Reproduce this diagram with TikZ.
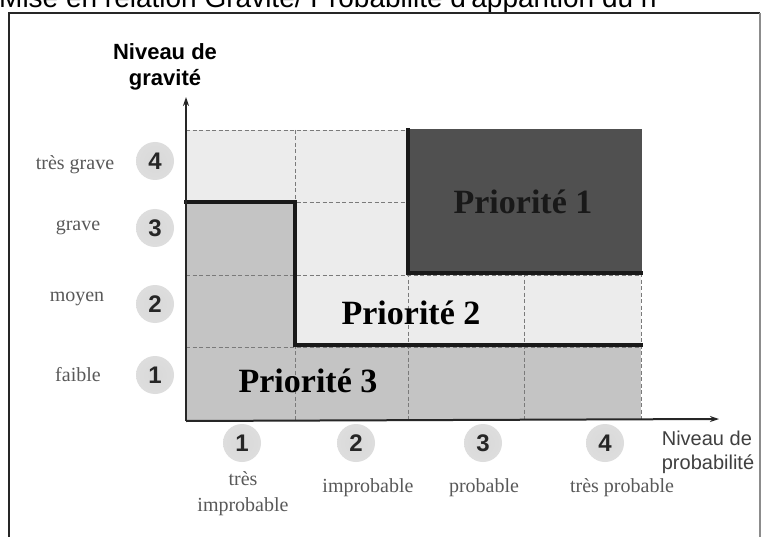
\documentclass[tikz,border=0pt]{standalone}
\usepackage{fontspec}
\setmainfont{Liberation Serif}
\newfontfamily\arialf{Liberation Sans}
\usetikzlibrary{arrows.meta}
\definecolor{ptwo}{HTML}{ECECEC}
\definecolor{pthree}{HTML}{C4C4C4}
\definecolor{pone}{HTML}{505050}
\definecolor{gridc}{HTML}{7A7A7A}
\pgfdeclareradialshading{badgeshading}{\pgfpoint{0bp}{0bp}}{color(0bp)=(black!15); color(28bp)=(black!13); color(50bp)=(white)}
\tikzset{
  lvl/.style={font=\fontsize{20}{22}\selectfont, text=black!65, inner sep=0pt},
  prio/.style={font=\bfseries\fontsize{34}{36}\selectfont, inner sep=0pt},
  num/.style={font=\arialf\bfseries\fontsize{24}{26}\selectfont, text=black!85, inner sep=0pt},
  axlab/.style={font=\arialf\fontsize{20}{24}\selectfont, text=black!75, align=center, inner sep=0pt},
  gridline/.style={gridc, line width=0.9pt, dash pattern=on 4pt off 2.5pt},
  thickline/.style={line width=3.6pt, black!90, line cap=rect},
  axisline/.style={line width=2pt, black!85, -{Stealth[length=9pt,width=6pt]}},
  badgeshade/.style={shading=badgeshading}
}
\begin{document}
\begin{tikzpicture}[x=1pt,y=-1pt]
\useasboundingbox (0,0) rectangle (765,537);
\clip (0,0) rectangle (765,537);
\fill[white] (0,0) rectangle (765,537);
% title (cut off at the top edge, as in the reference)
\node[anchor=base west, font=\arialf\fontsize{28}{30}\selectfont, inner sep=0pt] (title) at (-1,8) {Mise en relation Gravité/ Probabilité d'apparition du ri};
% frame
\draw[line width=2.4pt, black!85] (9,600) -- (9,13) -- (760,13);
\draw[line width=1.2pt, black!45] (760,13) -- (760,600);
% regions
\fill[ptwo] (186,130) rectangle (641,420);
\fill[pthree] (186,202) rectangle (295,420);
\fill[pthree] (295,346) rectangle (641,420);
% grid
\draw[gridline] (186,130) -- (641,130);
\draw[gridline] (186,202) -- (641,202);
\draw[gridline] (186,275) -- (641,275);
\draw[gridline] (186,347) -- (641,347);
\draw[gridline] (295,130) -- (295,420);
\draw[gridline] (408,130) -- (408,420);
\draw[gridline] (524,130) -- (524,420);
\draw[gridline] (641,130) -- (641,420);
% priority 1
\fill[pone] (408,129) rectangle (642,273);
% thick borders
\draw[thickline] (186,202) -- (295,202) -- (295,345) -- (641,345);
\draw[thickline] (408,130) -- (408,273) -- (641,273);
% priority labels
\node[prio, text=black!90] (p1) at (523,202) {Priorité 1};
\node[prio] (p2) at (411,313) {Priorité 2};
\node[prio] (p3) at (308,381) {Priorité 3};
% axes
\coordinate (o) at (186,421);
\coordinate (ytip) at (186,97);
\coordinate (xtip) at (719,419);
\draw[axisline] (o) -- (ytip);
\draw[axisline] (o) -- (xtip);
% axis titles
\node[font=\arialf\bfseries\fontsize{22}{26}\selectfont, align=center, inner sep=0pt] (ytitle) at (165,67) {Niveau de\\gravité};
\node[axlab, align=left] (xtitle) at (708,452) {Niveau de\\probabilité};
% y badges
\shade[badgeshade] (155,161) circle (19);
\shade[badgeshade] (155,228) circle (19);
\shade[badgeshade] (155,304) circle (19);
\shade[badgeshade] (155,375) circle (19);
\node[num] (y4) at (155,161) {4};
\node[num] (y3) at (155,228) {3};
\node[num] (y2) at (155,304) {2};
\node[num] (y1) at (155,375) {1};
\node[lvl] (l4) at (75,165) {très grave};
\node[lvl] (l3) at (78,228) {grave};
\node[lvl] (l2) at (77,299) {moyen};
\node[lvl] (l1) at (78,375) {faible};
% x badges
\shade[badgeshade] (242,443) circle (19);
\shade[badgeshade] (356,443) circle (19);
\shade[badgeshade] (483,443) circle (19);
\shade[badgeshade] (605,443) circle (19);
\node[num] (x1) at (242,443) {1};
\node[num] (x2) at (356,443) {2};
\node[num] (x3) at (483,443) {3};
\node[num] (x4) at (605,443) {4};
\node[lvl, align=center, font=\fontsize{20}{26}\selectfont] (m1) at (243,494) {très\\improbable};
\node[lvl] (m2) at (368,488) {improbable};
\node[lvl] (m3) at (484,488) {probable};
\node[lvl] (m4) at (622,488) {très probable};
\end{tikzpicture}
\end{document}
